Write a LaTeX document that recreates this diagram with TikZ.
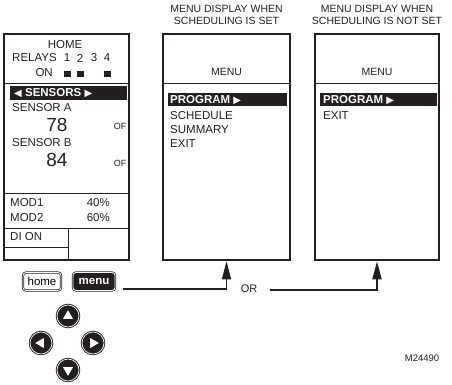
\documentclass[tikz,border=0pt]{standalone}
\usepackage{fontspec}
\setmainfont{Liberation Sans}
\newfontfamily\symfont{DejaVu Sans}
\usetikzlibrary{arrows.meta,positioning}
\definecolor{ink}{HTML}{231F20}
\newcommand{\fsz}[1]{\fontsize{#1}{#1}\selectfont}
\newcommand{\tril}{{\symfont\fsz{10}◀}}
\newcommand{\trir}{{\symfont\fsz{10}▶}}

\begin{document}
\begin{tikzpicture}[x=1pt, y=-1pt,
  screen/.style={draw=ink, line width=2.5pt, minimum width=#1, minimum height=226pt, inner sep=0pt},
  divider/.style={draw=ink, line width=1pt},
  txt/.style={inner sep=0pt, text=ink, font=\fsz{11.5}},
  title/.style={inner sep=0pt, text=ink, align=center, font=\fontsize{10.5}{12}\selectfont},
  hibar/.style={fill=ink, inner sep=0pt, minimum height=13.5pt, anchor=west},
  bartxt/.style={inner sep=0pt, text=white, font=\bfseries\fsz{11.5}, anchor=west},
  relay/.style={fill=ink, inner sep=0pt, minimum width=7pt, minimum height=6pt},
  btn/.style={draw=ink, double=white, line width=0.7pt, double distance=0.8pt, rounded corners=3pt, minimum height=18pt, inner sep=0pt, font=\fsz{11.5}},
  nav/.style={circle, draw=ink, double=white, fill=ink, line width=0.9pt, double distance=0.7pt, minimum size=22pt, inner sep=0pt},
  menulink/.style={draw=ink, -{Triangle[length=18pt, width=9pt]}}
]
  \useasboundingbox (0,0) rectangle (452,384);
  % screens
  \node[screen=125pt] (main) at (66.5,147) {};
  \node[screen=127pt] (set) at (226.5,147) {};
  \node[screen=124pt] (notset) at (377,147) {};
  % home screen
  \draw[divider] (main.west |- 0,83) -- (main.east |- 0,83);
  \draw[divider] (main.west |- 0,193) -- (main.east |- 0,193);
  \draw[divider] (main.west |- 0,228) -- (main.east |- 0,228);
  \coordinate (di) at (68,228);
  \draw[divider] (di) -- (di |- main.south);
  \draw[divider] (main.west |- 0,247) -- (di |- 0,247);
  \node[txt] (hometitle) at (65,45) {HOME};
  \node[txt, anchor=west] (relays) at (12,58) {RELAYS};
  \foreach \n/\x in {1/67,2/80,3/94,4/107}
    \node[txt] (r\n) at (\x,58) {\n};
  \node[txt, anchor=east] (on) at (53,73) {ON};
  \foreach \n in {1,2,4}
    \node[relay] (on\n) at (r\n |- 0,74) {};
  \node[hibar, minimum width=117pt] (sensbar) at (10,93) {};
  \node[bartxt] (sensors) at (14,93) {\tril{} SENSORS \trir};
  \node[txt, anchor=west] (sensa) at (12,108) {SENSOR A};
  \node[txt, font=\fsz{19}] (tempa) at (57,125) {78};
  \node[txt, font=\fsz{9}] (unita) at (120,126) {OF};
  \node[txt, anchor=west] (sensb) at (12,143) {SENSOR B};
  \node[txt, font=\fsz{19}] (tempb) at (57,160) {84};
  \node[txt, font=\fsz{9}] (unitb) at (120,163) {OF};
  \node[txt, anchor=west] (mod1) at (10,203) {MOD1};
  \node[txt, anchor=east] (mod1v) at (110,203) {40\%};
  \node[txt, anchor=west] (mod2) at (10,218) {MOD2};
  \node[txt, anchor=east] (mod2v) at (110,218) {60\%};
  \node[txt, anchor=west] (dion) at (10,237) {DI ON};
  % menu with scheduling set
  \node[title] (settitle) at (set.north |- 0,15) {MENU DISPLAY WHEN\\SCHEDULING IS SET};
  \node[txt, font=\fsz{10.5}] (setmenu) at (set.north |- 0,72) {MENU};
  \draw[divider] (set.west |- 0,83) -- (set.east |- 0,83);
  \node[hibar, minimum width=119pt] (setbar) at (168,99.5) {};
  \node[bartxt] (setprog) at (170,100) {PROGRAM \trir};
  \node[txt, anchor=west] (setsched) at (170,116) {SCHEDULE};
  \node[txt, anchor=west] (setsum) at (170,130) {SUMMARY};
  \node[txt, anchor=west] (setexit) at (170,144) {EXIT};
  % menu with scheduling not set
  \node[title] (nottitle) at (notset.north |- 0,15) {MENU DISPLAY WHEN\\SCHEDULING IS NOT SET};
  \node[txt, font=\fsz{10.5}] (notmenu) at (notset.north |- 0,72) {MENU};
  \draw[divider] (notset.west |- 0,83) -- (notset.east |- 0,83);
  \node[hibar, minimum width=117pt] (notbar) at (320,99.5) {};
  \node[bartxt] (notprog) at (323,100) {PROGRAM \trir};
  \node[txt, anchor=west] (notexit) at (323,116) {EXIT};
  % keys
  \node[btn, fill=white, minimum width=38pt] (home) at (42,281.5) {home};
  \node[btn, fill=ink, text=white, font=\bfseries\fsz{11.5}, minimum width=42pt] (menu) at (94,281.5) {menu};
  \node[nav] (up) at (68,316) {};
  \node[nav] (left) at (41,343) {};
  \node[nav] (right) at (93,343) {};
  \node[nav] (down) at (68,370) {};
  \foreach \b/\a in {up/90, left/180, right/0, down/270}
    \fill[white] (\b.center) ++(\a:5.8pt) -- ++(\a+150:10pt) -- ++(\a+270:10pt) -- cycle;
  % links
  \coordinate (go1) at (123,289);
  \coordinate (go2) at (270,290);
  \node[txt, font=\fsz{11}] (or) at (249,289) {OR};
  \draw[menulink, line width=1.2pt] (go1) -| (set.south);
  \draw[menulink, line width=1.8pt] (go2) -| (notset.south);
  \node[txt, font=\fsz{9.5}] (fig) at (422,358) {M24490};
\end{tikzpicture}
\end{document}
